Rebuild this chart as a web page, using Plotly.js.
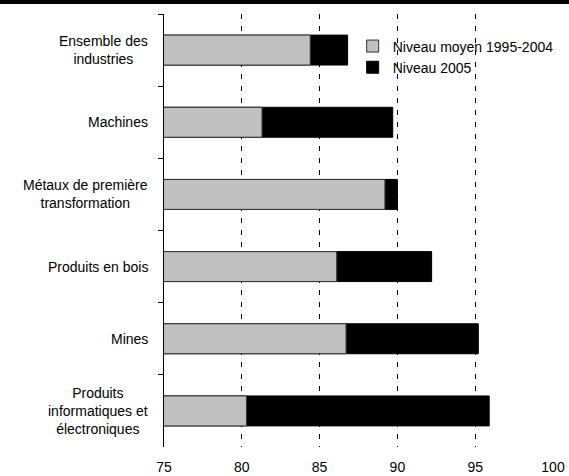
<!DOCTYPE html>
<html>
<head>
<meta charset="utf-8">
<script src="https://cdn.plot.ly/plotly-3.0.1.min.js"></script>
<style>html,body{margin:0;padding:0;background:#fff;overflow:hidden;}#chart{width:569px;height:476px;}</style>
</head>
<body>
<div id="chart"></div>
<script>
const categories = [
  "Ensemble des<br>industries",
  "Machines",
  "Métaux de première<br>transformation",
  "Produits en bois",
  "Mines",
  "Produits<br>informatiques et<br>électroniques"
];
const seriesNames = ["Niveau moyen 1995-2004", "Niveau 2005"];
const moyen19952004 = [84.4, 81.3, 89.2, 86.1, 86.7, 80.3];
const niveau2005 = [86.8, 89.7, 90.0, 92.2, 95.2, 95.9];
const xTicks = [75, 80, 85, 90, 95, 100];

const fontFam = 'Arial, "Liberation Sans", sans-serif';

const traces = [
  {
    type: 'bar', orientation: 'h', name: seriesNames[1],
    y: categories, x: niveau2005, base: 0,
    marker: {color: '#000000', line: {color: '#000000', width: 1}},
    legendrank: 2, hoverinfo: 'skip'
  },
  {
    type: 'bar', orientation: 'h', name: seriesNames[0],
    y: categories, x: moyen19952004,
    marker: {color: '#c0c0c0', line: {color: '#333333', width: 1}},
    legendrank: 1, hoverinfo: 'skip'
  }
];

const annotations = categories.map(c => ({
  xref: 'paper', yref: 'y', x: 0, y: c, text: c,
  xanchor: 'right', yanchor: 'middle', xshift: -14, align: 'center',
  showarrow: false, font: {family: fontFam, size: 14, color: '#000'}
}));

const layout = {
  width: 569, height: 476, autosize: false,
  margin: {l: 164, r: 16, t: 14, b: 29, autoexpand: false},
  paper_bgcolor: '#fff', plot_bgcolor: '#fff',
  barmode: 'overlay', bargap: 0.585,
  font: {family: fontFam, size: 14, color: '#000'},
  showlegend: true,
  legend: {
    x: 0.485, y: 0.962, xanchor: 'left', yanchor: 'top',
    bgcolor: 'rgba(0,0,0,0)', font: {family: fontFam, size: 14, color: '#000'},
    itemwidth: 30, tracegroupgap: 0
  },
  xaxis: {
    range: [75, 100], tickvals: xTicks, ticktext: xTicks.map(String),
    showline: false, zeroline: false, automargin: false,
    showgrid: true, gridcolor: '#000', gridwidth: 1, griddash: '5px,7px',
    ticks: 'outside', ticklen: 7, tickcolor: 'rgba(0,0,0,0)',
    tickfont: {family: fontFam, size: 14, color: '#000'}, fixedrange: true
  },
  yaxis: {
    type: 'category', autorange: 'reversed', automargin: false,
    showline: true, linecolor: '#000', linewidth: 1,
    ticks: 'outside', tickson: 'boundaries', ticklen: 5, tickcolor: '#000',
    showticklabels: false, showgrid: false, zeroline: false, fixedrange: true
  },
  annotations: annotations,
  shapes: [{
    type: 'rect', xref: 'paper', yref: 'paper',
    x0: -1, x1: 1.2, y0: 1 + 10/433, y1: 1 + 20/433,
    fillcolor: '#000', line: {width: 0}
  }]
};

Plotly.newPlot('chart', traces, layout, {displayModeBar: false, staticPlot: true});
</script>
</body>
</html>
